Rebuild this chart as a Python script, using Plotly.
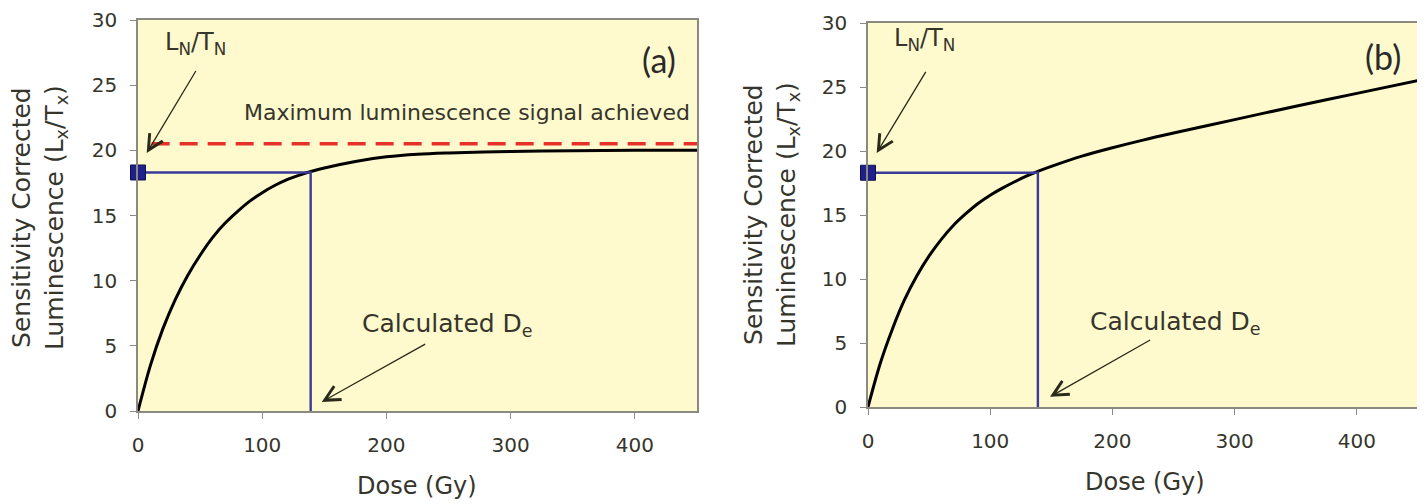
import plotly.graph_objects as go

# ---- data ----
dose = [0, 10, 20, 30, 40, 50, 60, 70, 80, 90, 100, 110, 120, 130, 140,
        150, 175, 200, 225, 250, 300, 350, 400, 450]
lum_a = [0, 3.5, 6.3, 8.55, 10.4, 11.95, 13.3, 14.4, 15.3, 16.1, 16.75, 17.3,
         17.75, 18.1, 18.4, 18.65, 19.15, 19.5, 19.7, 19.8, 19.92, 19.97, 20.0, 20.0]
lum_b = [0, 3.4, 6.1, 8.4, 10.25, 11.8, 13.1, 14.2, 15.1, 15.9, 16.55, 17.1,
         17.6, 18.05, 18.45, 18.8, 19.6, 20.25, 20.85, 21.4, 22.45, 23.5, 24.5, 25.5]
natural_signal = 18.3      # L_N/T_N
equivalent_dose = 139      # calculated De
max_signal = 20.5          # maximum luminescence signal (panel a)
max_signal_x = [11, 452]
x_ticks = [0, 100, 200, 300, 400]
y_ticks = [0, 5, 10, 15, 20, 25, 30]

FONT = "DejaVu Sans, Liberation Sans, Arial, sans-serif"
TXT = "#35352c"
BG = "#FFFACD"
AXC = "#8a8a80"

# figure size (page body adds an 8px margin)
W, H, OFF = 1414, 496, 8


def px_x(px):
    return (px - OFF) / W


def px_y(py):
    return 1 - (py - OFF) / H


fig = go.Figure()


def add_panel(xa, ya, lum):
    fig.add_trace(go.Scatter(x=dose, y=lum, mode="lines", xaxis=xa, yaxis=ya,
                             line=dict(color="black", width=3, shape="spline", smoothing=0.9),
                             showlegend=False, hoverinfo="skip"))
    fig.add_trace(go.Scatter(x=[0, equivalent_dose, equivalent_dose],
                             y=[natural_signal, natural_signal, 0],
                             mode="lines", xaxis=xa, yaxis=ya,
                             line=dict(color="#3a3a98", width=2.4),
                             showlegend=False, hoverinfo="skip"))
    fig.add_trace(go.Scatter(x=[0], y=[natural_signal], mode="markers", xaxis=xa, yaxis=ya,
                             marker=dict(symbol="square", size=15, color="#20208a",
                                         line=dict(color="#101050", width=1)),
                             cliponaxis=False, showlegend=False, hoverinfo="skip"))


add_panel("x", "y", lum_a)
fig.add_trace(go.Scatter(x=max_signal_x, y=[max_signal, max_signal], mode="lines",
                         xaxis="x", yaxis="y",
                         line=dict(color="#e8302a", width=3.4, dash="18px,10px"),
                         showlegend=False, hoverinfo="skip"))
add_panel("x2", "y2", lum_b)


def axis_x(domain, anchor):
    return dict(domain=domain, anchor=anchor, range=[0, 450], tickvals=x_ticks,
                automargin=False,
                showgrid=False, zeroline=False, showline=True, linecolor=AXC, linewidth=1.5,
                mirror=True, ticks="outside", ticklen=6, tickcolor=AXC,
                ticklabelstandoff=9,
                tickfont=dict(family=FONT, size=20, color=TXT))


def axis_y(domain, anchor):
    return dict(domain=domain, anchor=anchor, range=[0, 30], tickvals=y_ticks,
                automargin=False,
                showgrid=False, zeroline=False, showline=True, linecolor=AXC, linewidth=1.5,
                mirror=True, ticks="outside", ticklen=6, tickcolor=AXC,
                ticklabelstandoff=9,
                tickfont=dict(family=FONT, size=20, color=TXT))


annotations = []
ytitle = "Sensitivity Corrected<br>Luminescence (L<sub>x</sub>/T<sub>x</sub>)"
for (xref, yref, ytx, yty, dgx, dgy, panel, lnx, lny, ahx, ahy, atx, aty,
     dex, dey, dhx, dhy, dtx, dty, px, py) in [
    ("x", "y", 40, 218, 417, 486, "(a)", 45.9, 28.2, 7.0, 19.8, 47.3, 26.2,
     248.8, 6.6, 147.9, 0.7, 232.4, 5.2, 419.5, 27.0),
    ("x2", "y2", 771, 215, 1145, 482, "(b)", 46.6, 28.75, 7.1, 19.84, 48.0, 26.3,
     251.2, 6.6, 148.9, 0.8, 232.1, 5.3, 421.4, 27.4),
]:
    annotations += [
        dict(xref="paper", yref="paper", x=px_x(ytx), y=px_y(yty), text=ytitle,
             textangle=-90, xanchor="center", yanchor="middle",
             showarrow=False, font=dict(family=FONT, size=25, color=TXT)),
        dict(xref="paper", yref="paper", x=px_x(dgx), y=px_y(dgy), text="Dose (Gy)",
             xanchor="center", yanchor="middle",
             showarrow=False, font=dict(family=FONT, size=24, color=TXT)),
        dict(xref=xref, yref=yref, x=lnx, y=lny, text="L<sub>N</sub>/T<sub>N</sub>",
             xanchor="center", yanchor="middle",
             showarrow=False, font=dict(family=FONT, size=24, color=TXT)),
        dict(xref=xref, yref=yref, x=ahx, y=ahy, ax=atx, ay=aty, axref=xref, ayref=yref,
             text="", showarrow=True, arrowhead=5, arrowsize=2.3, arrowwidth=1.3,
             arrowcolor="#2a2a1a"),
        dict(xref=xref, yref=yref, x=dex, y=dey, text="Calculated D<sub>e</sub>",
             xanchor="center", yanchor="middle",
             showarrow=False, font=dict(family=FONT, size=25, color=TXT)),
        dict(xref=xref, yref=yref, x=dhx, y=dhy, ax=dtx, ay=dty, axref=xref, ayref=yref,
             text="", showarrow=True, arrowhead=5, arrowsize=2.3, arrowwidth=1.3,
             arrowcolor="#2a2a1a"),
        dict(xref=xref, yref=yref, x=px, y=py, text=panel, showarrow=False,
             xanchor="center", yanchor="middle",
             font=dict(family="Lato, Open Sans, sans-serif", size=34, color="#2a2a2a")),
    ]

annotations.append(dict(xref="x", yref="y", x=265, y=22.9,
                        text="Maximum luminescence signal achieved", showarrow=False,
                        xanchor="center", yanchor="middle",
                        font=dict(family=FONT, size=22, color=TXT)))

fig.update_layout(
    width=W, height=H,
    margin=dict(l=0, r=0, t=0, b=0),
    paper_bgcolor="white",
    plot_bgcolor=BG,
    xaxis=axis_x([px_x(138), px_x(697)], "y"),
    yaxis=axis_y([px_y(411), px_y(20)], "x"),
    xaxis2=axis_x([px_x(868), px_x(1418)], "y2"),
    yaxis2=axis_y([px_y(407), px_y(23)], "x2"),
    annotations=annotations,
)

fig.write_html("out.html")
